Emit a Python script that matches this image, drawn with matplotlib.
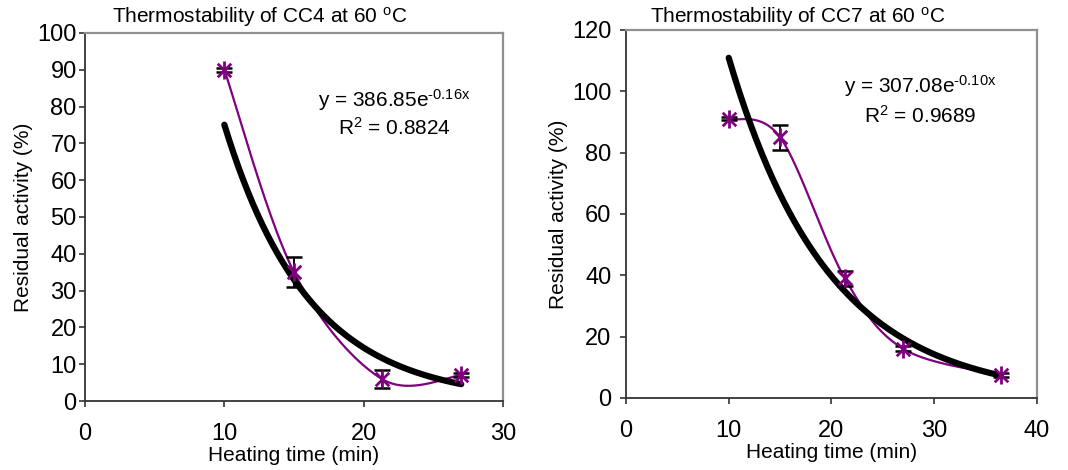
import numpy as np
import matplotlib
matplotlib.use("Agg")
import matplotlib.pyplot as plt
from matplotlib.path import Path

plt.rcParams['font.family'] = ['Liberation Sans', 'DejaVu Sans']
plt.rcParams['mathtext.default'] = 'regular'

# CC4 data
cc4_time = [10, 15, 21.3, 27]
cc4_act = [90, 35, 6, 7]
cc4_err = [0.5, 4, 2.5, 0.5]
cc4_eq = "y = 386.85e$^{\u20100.16x}$"
cc4_r2 = "R$^{2}$ = 0.8824"

# CC7 data
cc7_time = [10, 15, 21.3, 27, 36.5]
cc7_act = [91, 85, 39, 16, 7.5]
cc7_err = [0.5, 4, 2.5, 0.8, 0.5]
cc7_eq = "y = 307.08e$^{\u20100.10x}$"
cc7_r2 = "R$^{2}$ = 0.9689"

PURPLE = '#800080'

# asterisk marker: vertical stroke plus an X
star = Path([(0, -1), (0, 1), (-0.75, -0.75), (0.75, 0.75), (-0.75, 0.75), (0.75, -0.75)],
            [Path.MOVETO, Path.LINETO, Path.MOVETO, Path.LINETO, Path.MOVETO, Path.LINETO])


def smooth(x, y, n=60):
    # Excel-like smoothed line (Catmull-Rom as cubic Bezier)
    p = np.column_stack([x, y]).astype(float)
    ext = np.vstack([p[0], p, p[-1]])
    t = np.linspace(0, 1, n)[:, None]
    segs = []
    for i in range(len(p) - 1):
        p0, p1, p2, p3 = ext[i], ext[i + 1], ext[i + 2], ext[i + 3]
        c1 = p1 + (p2 - p0) / 6
        c2 = p2 - (p3 - p1) / 6
        b = ((1 - t) ** 3) * p1 + 3 * ((1 - t) ** 2) * t * c1 + 3 * (1 - t) * t ** 2 * c2 + t ** 3 * p2
        segs.append(b)
    s = np.vstack(segs)
    return s[:, 0], s[:, 1]


def panel(ax, x, y, err, xmax, ymax, ystep, ypad):
    sx, sy = smooth(x, y)
    ax.plot(sx, sy, color=PURPLE, lw=1.6, zorder=2)
    # exponential trendline fitted to the points
    k, lna = np.polyfit(x, np.log(y), 1)
    tx = np.linspace(min(x), max(x), 200)
    ax.plot(tx, np.exp(lna) * np.exp(k * tx), color='black', lw=4.5,
            solid_capstyle='round', zorder=3)
    ax.errorbar(x, y, yerr=err, fmt='none', ecolor='black', elinewidth=1.4,
                capsize=5.5, capthick=1.8, zorder=4)
    ax.plot(x, y, ls='none', marker=star, ms=13, mew=2.0, mec=PURPLE,
            mfc='none', zorder=5)
    ax.set_xlim(0, xmax)
    ax.set_ylim(0, ymax)
    ax.set_xticks(np.arange(0, xmax + 1, 10))
    ax.set_yticks(np.arange(0, ymax + 1, ystep))
    ax.tick_params(axis='both', direction='out', length=4.5, width=1.2,
                   labelsize=17, colors='#333333', labelcolor='black')
    ax.tick_params(axis='x', pad=11)
    ax.tick_params(axis='y', pad=ypad)
    for s in ('left', 'bottom'):
        ax.spines[s].set_color('#333333')
        ax.spines[s].set_linewidth(1.3)
    for s in ('top', 'right'):
        ax.spines[s].set_color('#909090')
        ax.spines[s].set_linewidth(1.6)
    ax.set_xlabel('Heating time (min)', fontsize=15, labelpad=1)
    ax.set_ylabel('Residual activity (%)', fontsize=15, labelpad=3)


fig = plt.figure(figsize=(10.68, 4.70), dpi=100)
ax1 = fig.add_axes([0.0796, 0.1468, 0.3914, 0.7830])
ax2 = fig.add_axes([0.5861, 0.1532, 0.3849, 0.7830])

panel(ax1, cc4_time, cc4_act, cc4_err, 30, 100, 10, 1.5)
panel(ax2, cc7_time, cc7_act, cc7_err, 40, 120, 20, 6)

fig.text(0.2434, 0.951, 'Thermostability of CC4 at 60 $^{o}$C', ha='center', va='baseline', fontsize=15)
fig.text(0.747, 0.951, 'Thermostability of CC7 at 60 $^{o}$C', ha='center', va='baseline', fontsize=15)

fig.text(0.369, 0.772, cc4_eq, ha='center', va='baseline', fontsize=15)
fig.text(0.369, 0.7128, cc4_r2, ha='center', va='baseline', fontsize=15)
fig.text(0.8617, 0.802, cc7_eq, ha='center', va='baseline', fontsize=15)
fig.text(0.862, 0.738, cc7_r2, ha='center', va='baseline', fontsize=15)

fig.savefig('out.png', dpi=100)
